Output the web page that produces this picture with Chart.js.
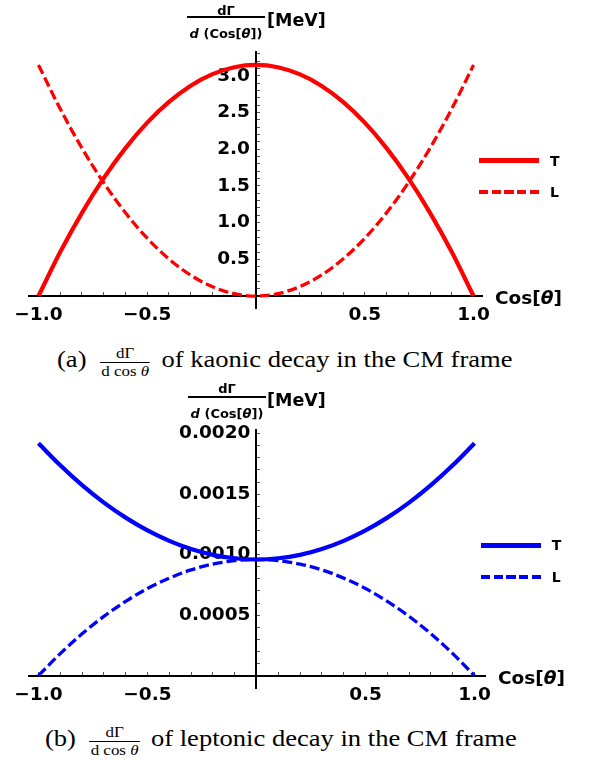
<!DOCTYPE html>
<html>
<head>
<meta charset="utf-8">
<script src="https://cdn.jsdelivr.net/npm/chart.js@4.4.0/dist/chart.umd.min.js"></script>
<style>
  body { margin: 0; background: #fff; }
  #page { position: relative; width: 592px; height: 760px; overflow: hidden; background: #fff; }
  canvas { position: absolute; left: 0; }
  .sans { position: absolute; font-family: 'DejaVu Sans', sans-serif; font-weight: bold; color: #000; white-space: nowrap; line-height: 1; }
  .bar { position: absolute; height: 1.5px; background: #000; }
  .num, .den { text-align: center; font-size: 13px; }
  .unit { font-size: 17.5px; }
  .xlab { font-size: 18.5px; }
  .leg { font-size: 14px; }
  .line { position: absolute; width: 60px; }
  .cap { position: absolute; font-family: 'Liberation Serif', serif; font-size: 23.5px; line-height: 1;
         white-space: nowrap; transform: scaleX(1.13); transform-origin: 0 0; color: #000; }
  .cfrac { display: inline-block; vertical-align: middle; text-align: center; font-size: 15px; line-height: 1.1; margin: 0 10px 0 12px; }
  .cfrac span { display: block; padding: 0 1px; }
  .cfrac span:first-child { border-bottom: 1px solid #000; }
</style>
</head>
<body>
<div id="page">
  <canvas id="kaon" width="592" height="340" style="top:0"></canvas>
  <canvas id="lepton" width="592" height="340" style="top:380px"></canvas>

  <!-- panel (a) labels -->
  <div class="sans num" style="left:187px; width:78px; top:3.7px">dΓ</div>
  <div class="bar" style="left:187px; width:78px; top:16px"></div>
  <div class="sans den" style="left:187px; width:78px; top:26.7px"><i>d</i> (Cos[<i>θ</i>])</div>
  <div class="sans unit" style="left:267px; top:12.3px">[MeV]</div>
  <div class="sans xlab" style="left:495px; top:288.8px">Cos[<i>θ</i>]</div>
  <div class="line" style="left:479px; top:158.2px; height:5px; background:#ff0000"></div>
  <div class="line" style="left:479px; top:189.7px; height:4px; background:repeating-linear-gradient(to right,#ff0000 0 9.3px,transparent 9.3px 12.7px)"></div>
  <div class="sans leg" style="left:550px; top:153.8px">T</div>
  <div class="sans leg" style="left:550px; top:184.6px">L</div>
  <div class="cap" style="left:56.7px; top:345px">(a)<span class="cfrac"><span>dΓ</span><span>d cos <i>θ</i></span></span>of kaonic decay in the CM frame</div>

  <!-- panel (b) labels -->
  <div class="sans num" style="left:188px; width:78px; top:382px">dΓ</div>
  <div class="bar" style="left:188px; width:78px; top:396px"></div>
  <div class="sans den" style="left:188px; width:78px; top:407px"><i>d</i> (Cos[<i>θ</i>])</div>
  <div class="sans unit" style="left:267px; top:391.6px">[MeV]</div>
  <div class="sans xlab" style="left:498px; top:669.1px">Cos[<i>θ</i>]</div>
  <div class="line" style="left:480.7px; top:542.5px; height:5px; background:#0000ff"></div>
  <div class="line" style="left:480.7px; top:574.7px; height:4px; background:repeating-linear-gradient(to right,#0000ff 0 9.3px,transparent 9.3px 12.7px)"></div>
  <div class="sans leg" style="left:551.7px; top:538.3px">T</div>
  <div class="sans leg" style="left:551.7px; top:570px">L</div>
  <div class="cap" style="left:45px; top:724px">(b)<span class="cfrac"><span>dΓ</span><span>d cos <i>θ</i></span></span>of leptonic decay in the CM frame</div>
</div>

<script>
// values, one per 0.1 in cos(theta)
const cosTheta = [-1.0, -0.9, -0.8, -0.7, -0.6, -0.5, -0.4, -0.3, -0.2, -0.1, 0.0,
                   0.1, 0.2, 0.3, 0.4, 0.5, 0.6, 0.7, 0.8, 0.9, 1.0];

const kaonT = [0.000, 0.599, 1.134, 1.607, 2.016, 2.363, 2.646, 2.867, 3.024, 3.119, 3.150,
               3.119, 3.024, 2.867, 2.646, 2.363, 2.016, 1.607, 1.134, 0.599, 0.000];
const kaonL = [3.150, 2.552, 2.016, 1.544, 1.134, 0.788, 0.504, 0.284, 0.126, 0.032, 0.000,
               0.032, 0.126, 0.284, 0.504, 0.788, 1.134, 1.544, 2.016, 2.552, 3.150];

const leptonT = [0.001920, 0.001738, 0.001574, 0.001430, 0.001306, 0.001200, 0.001114, 0.001046, 0.000998, 0.000970, 0.000960,
                 0.000970, 0.000998, 0.001046, 0.001114, 0.001200, 0.001306, 0.001430, 0.001574, 0.001738, 0.001920];
const leptonL = [0.000000, 0.000182, 0.000346, 0.000490, 0.000614, 0.000720, 0.000806, 0.000874, 0.000922, 0.000950, 0.000960,
                 0.000950, 0.000922, 0.000874, 0.000806, 0.000720, 0.000614, 0.000490, 0.000346, 0.000182, 0.000000];

const xTickValues = [-1.0, -0.5, 0.5, 1.0];
const xTickLabels = ['−1.0', '−0.5', '0.5', '1.0'];
const kaonYTickValues = [0.5, 1.0, 1.5, 2.0, 2.5, 3.0];
const kaonYTickLabels = ['0.5', '1.0', '1.5', '2.0', '2.5', '3.0'];
const leptonYTickValues = [0.0005, 0.0010, 0.0015, 0.0020];
const leptonYTickLabels = ['0.0005', '0.0010', '0.0015', '0.0020'];

const tickFont = { family: 'DejaVu Sans', weight: 'bold', size: 18.5 };

function labelFor(values, labels, step, gap) {
  return v => {
    const i = values.findIndex(t => Math.abs(t - v) < step / 10);
    return i < 0 ? '' : labels[i] + gap;
  };
}

function points(ys) {
  return cosTheta.map((x, i) => ({ x: x, y: ys[i] }));
}

function makeChart(id, tVals, lVals, color, box, xr, yr, yStep, yVals, yLabels) {
  return new Chart(document.getElementById(id), {
    type: 'line',
    data: {
      datasets: [
        { label: 'T', data: points(tVals), borderColor: color, borderWidth: 4.2,
          pointRadius: 0, cubicInterpolationMode: 'monotone', fill: false },
        { label: 'L', data: points(lVals), borderColor: color, borderWidth: 3.3,
          borderDash: [10, 4], pointRadius: 0, cubicInterpolationMode: 'monotone', fill: false }
      ]
    },
    options: {
      responsive: false,
      animation: false,
      layout: { padding: box },
      plugins: { legend: { display: false }, tooltip: { enabled: false } },
      scales: {
        x: {
          type: 'linear', min: xr[0], max: xr[1], position: { y: 0 }, z: 1,
          border: { display: true, color: '#000', width: 2 },
          grid: { drawOnChartArea: false, drawTicks: true, tickLength: -5, color: '#000', tickColor: '#555', tickWidth: 1 },
          ticks: { stepSize: 0.1, includeBounds: false, autoSkip: false, maxRotation: 0,
                   padding: 13, color: '#000', font: tickFont,
                   callback: labelFor(xTickValues, xTickLabels, 0.1, '') }
        },
        y: {
          type: 'linear', min: yr[0], max: yr[1], position: { x: 0 }, z: 1,
          border: { display: true, color: '#000', width: 2 },
          grid: { drawOnChartArea: false, drawTicks: true, tickLength: -5, color: '#000', tickWidth: 1,
                  tickColor: ctx => (ctx.tick && ctx.tick.value < 0) ? 'rgba(0,0,0,0)' : '#555' },
          ticks: { stepSize: yStep, includeBounds: false, autoSkip: false,
                   color: '#000', font: tickFont,
                   callback: labelFor(yVals, yLabels, yStep, '\u2004') }
        }
      }
    }
  });
}

makeChart('kaon', kaonT, kaonL, '#ff0000',
  { left: 29.3, right: 109.3, top: 51.7, bottom: 32 },
  [-1.042, 1.042], [-0.163, 3.33], 0.1, kaonYTickValues, kaonYTickLabels);

makeChart('lepton', leptonT, leptonL, '#0000ff',
  { left: 29.3, right: 107, top: 50, bottom: 32 },
  [-1.042, 1.048], [-0.000102, 0.00203], 0.0001, leptonYTickValues, leptonYTickLabels);
</script>
</body>
</html>
